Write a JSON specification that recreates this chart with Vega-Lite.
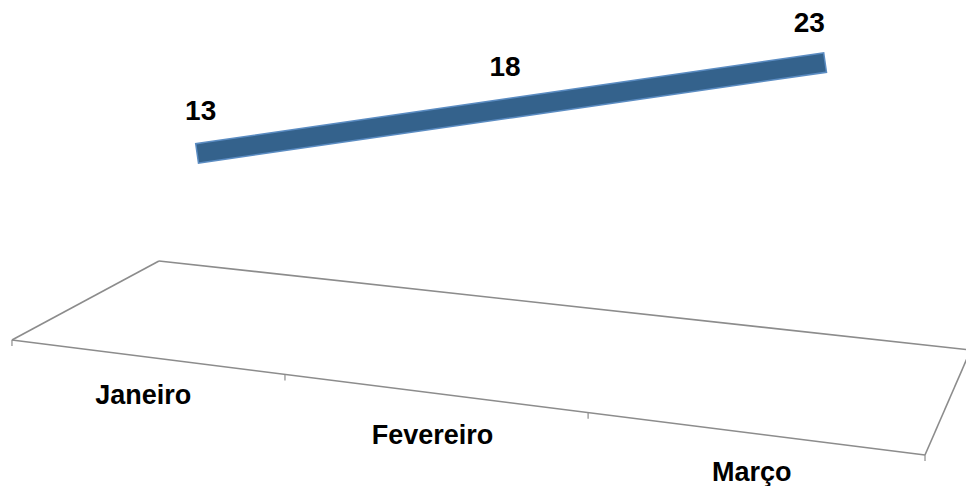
{
  "$schema": "https://vega.github.io/schema/vega-lite/v6.json",
  "width": 966,
  "height": 340,
  "autosize": {"type": "none"},
  "padding": {"left": 0, "top": 0, "right": 0, "bottom": 146},
  "config": {"view": {"stroke": null}, "font": "Liberation Sans"},
  "data": {"values": [
    {"mes": "Janeiro", "valor": 13},
    {"mes": "Fevereiro", "valor": 18},
    {"mes": "Março", "valor": 23}
  ]},
  "layer": [
    {
      "mark": {"type": "line", "strokeWidth": 21, "color": "#5B8CC2", "strokeCap": "square"},
      "encoding": {
        "x": {
          "field": "mes", "type": "nominal", "bandPosition": 0.64,
          "scale": {"type": "band", "domain": ["Janeiro", "Fevereiro", "Março"], "paddingInner": 0, "paddingOuter": 0.087, "align": 0.226},
          "axis": {
            "title": null, "domain": false, "ticks": false, "grid": false,
            "labelFont": "Liberation Sans", "labelFontSize": 27, "labelFontWeight": "bold", "labelColor": "#000000",
            "labelBaseline": "alphabetic", "labelAngle": 0, "labelOverlap": false, "labelLimit": 0,
            "labelOffset": {"condition": [{"test": "datum.value == 'Janeiro'", "value": -21}, {"test": "datum.value == 'Fevereiro'", "value": -36}], "value": -21},
            "labelPadding": {"condition": [{"test": "datum.value == 'Janeiro'", "value": 63}, {"test": "datum.value == 'Fevereiro'", "value": 103}], "value": 140}
          }
        },
        "y": {"field": "valor", "type": "quantitative", "scale": {"domain": [-8.36, 30.27], "nice": false, "zero": false}, "axis": null}
      }
    },
    {
      "mark": {"type": "line", "strokeWidth": 18, "color": "#34628C", "strokeCap": "square"},
      "encoding": {
        "x": {"field": "mes", "type": "nominal", "bandPosition": 0.64},
        "y": {"field": "valor", "type": "quantitative"}
      }
    },
    {
      "mark": {"type": "text", "fontSize": 28, "fontWeight": "bold", "color": "#000000", "baseline": "middle", "align": "center", "dy": -40},
      "encoding": {
        "x": {"field": "mes", "type": "nominal", "bandPosition": 0.62},
        "y": {"field": "valor", "type": "quantitative"},
        "text": {"field": "valor", "type": "quantitative"}
      }
    },
    {
      "data": {"values": [{}]},
      "mark": {"type": "rule", "color": "#8C8C8C", "strokeWidth": 1.6},
      "encoding": {
        "x": {"datum": "Janeiro", "type": "nominal", "bandPosition": 0.483},
        "y": {"datum": 0.62, "type": "quantitative"},
        "x2": {"datum": "Março", "bandPosition": 1.15},
        "y2": {"datum": -9.5}
      }
    },
    {
      "data": {"values": [{}]},
      "mark": {"type": "rule", "color": "#8C8C8C", "strokeWidth": 1.6},
      "encoding": {
        "x": {"datum": "Janeiro", "type": "nominal", "bandPosition": 0},
        "y": {"datum": -8.36, "type": "quantitative"},
        "x2": {"datum": "Março", "bandPosition": 1},
        "y2": {"datum": -21.43}
      }
    },
    {
      "data": {"values": [{}]},
      "mark": {"type": "rule", "color": "#8C8C8C", "strokeWidth": 1.6},
      "encoding": {
        "x": {"datum": "Janeiro", "type": "nominal", "bandPosition": 0.483},
        "y": {"datum": 0.62, "type": "quantitative"},
        "x2": {"datum": "Janeiro", "bandPosition": 0},
        "y2": {"datum": -8.36}
      }
    },
    {
      "data": {"values": [{}]},
      "mark": {"type": "rule", "color": "#8C8C8C", "strokeWidth": 1.6},
      "encoding": {
        "x": {"datum": "Março", "type": "nominal", "bandPosition": 1.15},
        "y": {"datum": -9.5, "type": "quantitative"},
        "x2": {"datum": "Março", "bandPosition": 1},
        "y2": {"datum": -21.43}
      }
    },
    {
      "data": {"values": [{}]},
      "mark": {"type": "rule", "color": "#8C8C8C", "strokeWidth": 1.2},
      "encoding": {
        "x": {"datum": "Janeiro", "type": "nominal", "bandPosition": 0},
        "y": {"datum": -8.36, "type": "quantitative"},
        "y2": {"datum": -9.04}
      }
    },
    {
      "data": {"values": [{}]},
      "mark": {"type": "rule", "color": "#8C8C8C", "strokeWidth": 1.2},
      "encoding": {
        "x": {"datum": "Janeiro", "type": "nominal", "bandPosition": 0.897},
        "y": {"datum": -12.27, "type": "quantitative"},
        "y2": {"datum": -12.95}
      }
    },
    {
      "data": {"values": [{}]},
      "mark": {"type": "rule", "color": "#8C8C8C", "strokeWidth": 1.2},
      "encoding": {
        "x": {"datum": "Fevereiro", "type": "nominal", "bandPosition": 0.893},
        "y": {"datum": -16.61, "type": "quantitative"},
        "y2": {"datum": -17.3}
      }
    },
    {
      "data": {"values": [{}]},
      "mark": {"type": "rule", "color": "#8C8C8C", "strokeWidth": 1.2},
      "encoding": {
        "x": {"datum": "Março", "type": "nominal", "bandPosition": 1},
        "y": {"datum": -21.43, "type": "quantitative"},
        "y2": {"datum": -22.11}
      }
    }
  ]
}
